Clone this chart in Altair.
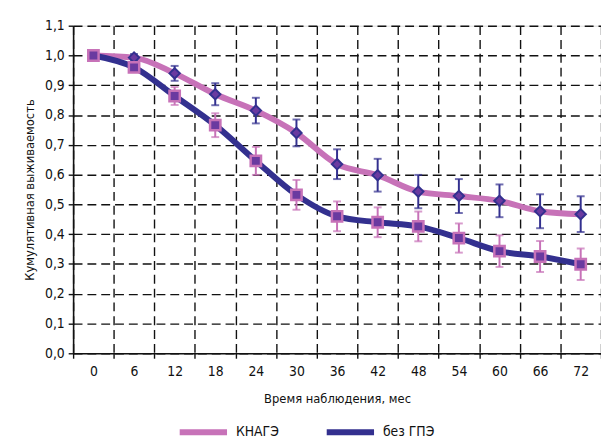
import altair as alt
import pandas as pd

months = [0, 6, 12, 18, 24, 30, 36, 42, 48, 54, 60, 66, 72]
knage = [1.0, 0.993, 0.94, 0.87, 0.815, 0.74, 0.635, 0.598, 0.543, 0.528, 0.512, 0.477, 0.467]
knage_err = [0.0, 0.012, 0.025, 0.037, 0.043, 0.045, 0.05, 0.055, 0.056, 0.057, 0.055, 0.057, 0.06]
bez = [1.0, 0.96, 0.864, 0.766, 0.646, 0.532, 0.46, 0.44, 0.426, 0.387, 0.343, 0.325, 0.299]
bez_err = [0.0, 0.015, 0.03, 0.04, 0.047, 0.05, 0.05, 0.05, 0.05, 0.049, 0.053, 0.052, 0.053]
series = ["КНАГЭ", "без ГПЭ"]
y_ticks = [0.0, 0.1, 0.2, 0.3, 0.4, 0.5, 0.6, 0.7, 0.8, 0.9, 1.0, 1.1]

PINK = "#c772b8"
NAVY = "#33308f"
FILL = "#6a3aa0"
FONT = "DejaVu Sans Condensed, Liberation Sans, sans-serif"

rows = []
for name, vals, errs in [(series[0], knage, knage_err), (series[1], bez, bez_err)]:
    for t, v, e in zip(months, vals, errs):
        rows.append({"t": t, "v": v, "lo": v - e, "hi": v + e, "s": name})
df = pd.DataFrame(rows)

common = dict(
    grid=True,
    gridDash=[9, 5],
    gridColor="#111111",
    gridWidth=1.4,
    domainColor="#111111",
    domainWidth=1.6,
    tickColor="#111111",
    tickWidth=1.4,
    tickSize=5,
    labelFontSize=14,
    labelFont=FONT,
    labelColor="#111111",
    labelOverlap=False,
    titleFontSize=13,
    titleFont=FONT,
    titleFontWeight="normal",
    titleColor="#111111",
)

x = alt.X(
    "t:O",
    sort=months,
    scale=alt.Scale(paddingInner=0, paddingOuter=0),
    axis=alt.Axis(
        title="Время наблюдения, мес",
        labelAngle=0,
        tickBand="extent",
        labelPadding=7,
        titlePadding=14,
        **common,
    ),
)
yscale = alt.Scale(domain=[0, 1.1], nice=False)
yaxis = alt.Axis(
    title="Кумулятивная выживаемость",
    values=y_ticks,
    labelExpr="replace(format(datum.value, '.1f'), '.', ',')",
    labelPadding=4,
    titlePadding=8,
    **common,
)
y = alt.Y("v:Q", scale=yscale, axis=yaxis)
ylo = alt.Y("lo:Q", scale=yscale, axis=yaxis)
yhi = alt.Y("hi:Q", scale=yscale, axis=yaxis)

base = alt.Chart(df)

lines = base.mark_line(interpolate="monotone", strokeWidth=6).encode(
    x=x,
    y=y,
    color=alt.Color(
        "s:N",
        scale=alt.Scale(domain=series, range=[PINK, NAVY]),
        sort=series,
        legend=alt.Legend(
            title=None,
            orient="none",
            legendX=105,
            legendY=385,
            direction="horizontal",
            symbolType="stroke",
            symbolStrokeWidth=6,
            symbolSize=2300,
            labelFontSize=14,
            labelFont=FONT,
            labelColor="#111111",
            columnPadding=36,
            labelOffset=6,
        ),
    ),
    detail="s:N",
)

def err_layer(name, col):
    sub = base.transform_filter(alt.datum.s == name)
    rule = sub.mark_rule(strokeWidth=2, color=col).encode(x=x, y=ylo, y2="hi:Q")
    tlo = sub.mark_tick(size=8, thickness=2, color=col).encode(x=x, y=ylo)
    thi = sub.mark_tick(size=8, thickness=2, color=col).encode(x=x, y=yhi)
    return rule + tlo + thi

pts_k = base.transform_filter(alt.datum.s == series[0]).mark_point(
    shape="diamond", size=110, filled=True, fill=FILL, stroke=NAVY, strokeWidth=2, opacity=1
).encode(x=x, y=y)
pts_b = base.transform_filter(alt.datum.s == series[1]).mark_point(
    shape="square", size=110, filled=True, fill=FILL, stroke=PINK, strokeWidth=2.5, opacity=1
).encode(x=x, y=y)

chart = alt.layer(
    lines,
    err_layer(series[0], NAVY),
    err_layer(series[1], PINK),
    pts_k,
    pts_b,
).properties(
    width=535,
    height=332,
    autosize=alt.AutoSizeParams(type="none"),
    padding={"left": 66, "top": 15, "right": 0, "bottom": 90},
).configure_view(stroke=None).configure(font=FONT, background="white")

chart.save("out.html", embed_options={"renderer": "svg", "actions": False})
